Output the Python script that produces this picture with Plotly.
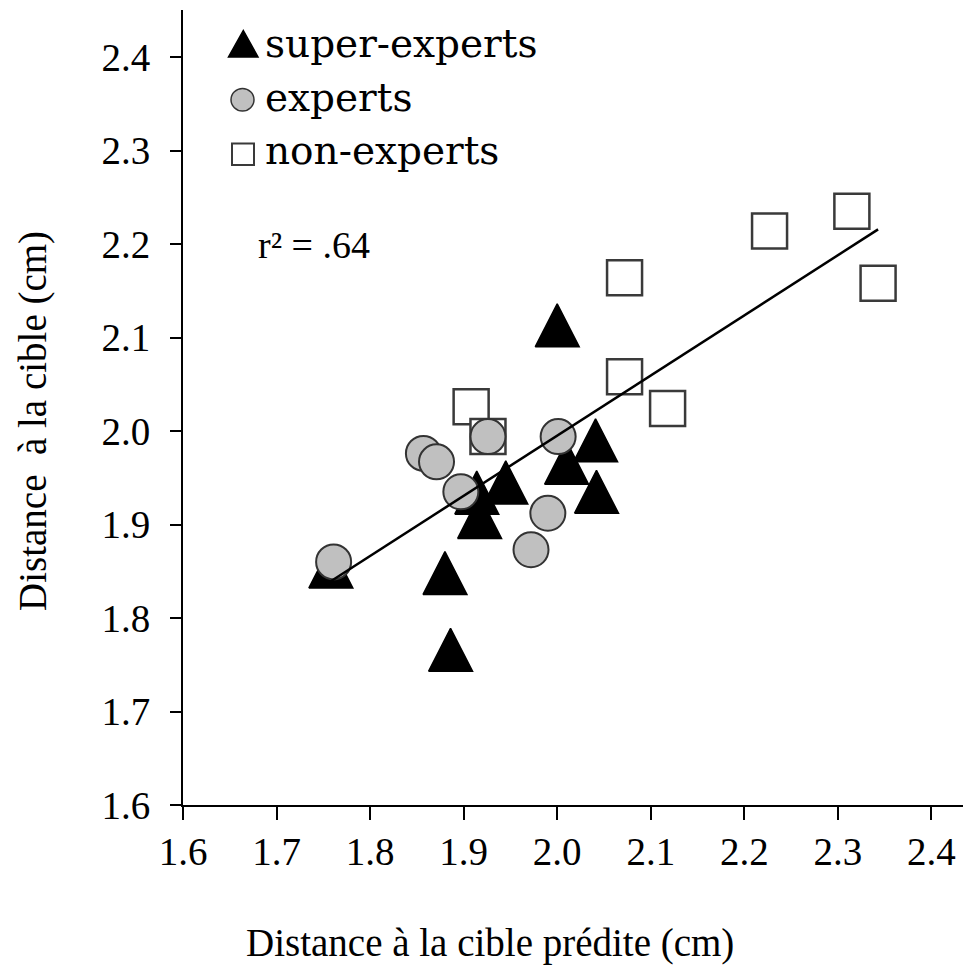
import numpy as np
import plotly.graph_objects as go

# ---------------- data ----------------
super_x = [2.000, 2.041, 2.010, 2.042, 1.945, 1.914, 1.917, 1.880, 1.886, 1.758]
super_y = [2.113, 1.990, 1.966, 1.935, 1.945, 1.934, 1.908, 1.848, 1.766, 1.855]

experts_x = [1.761, 1.857, 1.871, 1.897, 1.926, 2.001, 1.990, 1.972]
experts_y = [1.860, 1.976, 1.967, 1.935, 1.994, 1.994, 1.912, 1.873]

non_x = [1.908, 1.926, 2.072, 2.118, 2.072, 2.227, 2.315, 2.343]
non_y = [2.026, 1.994, 2.058, 2.024, 2.164, 2.214, 2.235, 2.158]

group_labels = ["super-experts", "experts", "non-experts"]
tick_vals = [1.6, 1.7, 1.8, 1.9, 2.0, 2.1, 2.2, 2.3, 2.4]
x_tick_text = ["1.6", "1.7", "1.8", "1.9", "2.0", "2.1", "2.2", "2.3", "2.4"]
y_tick_text = ["1.6", "1.7", "1.8", "1.9", "2.0", "2.1", "2.2", "2.3", "2.4"]
r2_label = "r² = .64"
x_title = "Distance à la cible prédite (cm)"
y_title = "Distance\u00a0 à la cible (cm)"

# ---------------- layout geometry ----------------
BODY = 8                                # default page margin around the figure
W, H = 971 - BODY, 965 - BODY
ML, MR, MT, MB = 183 - BODY, 2, 10 - BODY, 160
PW, PH = W - ML - MR, H - MT - MB
PXU_X, PXU_Y = 935.5, 935.0             # pixels per data unit
x_range = [1.6, 1.6 + PW / PXU_X]
y_range = [1.6, 1.6 + PH / PXU_Y]
PLOT_LEFT, PLOT_BOTTOM = ML + BODY, H - MB + BODY   # in window pixels


def px(xp):
    return (xp - PLOT_LEFT) / PW


def py(yp):
    return (PLOT_BOTTOM - yp) / PH


SERIF = "Liberation Serif, Times New Roman, serif"
LEG_FONT = "DejaVu Serif, serif"

fig = go.Figure()

# non-experts: open squares (drawn first, under the others)
fig.add_trace(go.Scatter(
    x=non_x, y=non_y, mode="markers", name=group_labels[2], showlegend=False,
    marker=dict(symbol="square", size=35, color="white",
                line=dict(color="#3a3a3a", width=2.5)),
))

# super-experts: filled triangles drawn as polygons in data space
tri_hw = 22.0 / PXU_X
tri_hh = 21.5 / PXU_Y
tx, ty = [], []
for xv, yv in zip(super_x, super_y):
    tx += [xv - tri_hw, xv + tri_hw, xv, xv - tri_hw, None]
    ty += [yv - tri_hh, yv - tri_hh, yv + tri_hh, yv - tri_hh, None]
fig.add_trace(go.Scatter(
    x=tx, y=ty, mode="lines", fill="toself", fillcolor="black",
    line=dict(color="black", width=1.5), name=group_labels[0],
    showlegend=False, hoverinfo="skip",
))

# experts: grey circles
fig.add_trace(go.Scatter(
    x=experts_x, y=experts_y, mode="markers", name=group_labels[1], showlegend=False,
    marker=dict(symbol="circle", size=35, color="#c0c0c0",
                line=dict(color="#333333", width=2)),
))

# linear fit over all points
all_x = np.array(super_x + experts_x + non_x)
all_y = np.array(super_y + experts_y + non_y)
slope, intercept = np.polyfit(all_x, all_y, 1)
fx = np.array([all_x.min(), all_x.max()])
fig.add_trace(go.Scatter(
    x=fx, y=slope * fx + intercept, mode="lines", showlegend=False,
    line=dict(color="black", width=2.5), hoverinfo="skip",
))

# ---------------- custom legend ----------------
shapes = [
    dict(type="path", xref="paper", yref="paper",
         path=f"M {px(228.5)},{py(57)} L {px(258)},{py(57)} L {px(243.3)},{py(30.5)} Z",
         fillcolor="black", line=dict(color="black", width=1.5)),
    dict(type="circle", xref="paper", yref="paper",
         x0=px(231), x1=px(254), y0=py(111), y1=py(88.5),
         fillcolor="#c0c0c0", line=dict(color="#333333", width=1.5)),
    dict(type="rect", xref="paper", yref="paper",
         x0=px(232), x1=px(254), y0=py(165), y1=py(143.5),
         fillcolor="white", line=dict(color="#3a3a3a", width=2)),
]

annotations = []
for lab, yc in zip(group_labels, [43.8, 97.2, 150.5]):
    annotations.append(dict(
        text=lab, xref="paper", yref="paper", x=px(263), y=py(yc),
        xanchor="left", yanchor="middle", showarrow=False,
        font=dict(family=LEG_FONT, size=39, color="black"),
    ))

annotations.append(dict(
    text=r2_label, xref="paper", yref="paper", x=px(256), y=py(245),
    xanchor="left", yanchor="middle", showarrow=False,
    font=dict(family=SERIF, size=38, color="black"),
))
annotations.append(dict(
    text=x_title, xref="paper", yref="paper", x=px(490), y=py(943),
    xanchor="center", yanchor="middle", showarrow=False,
    font=dict(family=SERIF, size=39, color="black"),
))
annotations.append(dict(
    text=y_title, xref="paper", yref="paper", x=px(33), y=py(421),
    xanchor="center", yanchor="middle", showarrow=False, textangle=-90,
    font=dict(family=SERIF, size=39, color="black"),
))

fig.update_layout(
    width=W, height=H,
    margin=dict(l=ML, r=MR, t=MT, b=MB, pad=0),
    paper_bgcolor="white", plot_bgcolor="white",
    showlegend=False,
    shapes=shapes, annotations=annotations,
    xaxis=dict(range=x_range, tickvals=tick_vals, ticktext=x_tick_text,
               showline=True, linecolor="black", linewidth=2,
               ticks="outside", ticklen=13, tickwidth=2, tickcolor="black",
               showgrid=False, zeroline=False, ticklabelstandoff=-2,
               tickfont=dict(family=SERIF, size=39, color="black")),
    yaxis=dict(range=y_range, tickvals=tick_vals, ticktext=y_tick_text,
               showline=True, linecolor="black", linewidth=2,
               ticks="outside", ticklen=11, tickwidth=2, tickcolor="black",
               showgrid=False, zeroline=False, ticklabelstandoff=12,
               tickfont=dict(family=SERIF, size=39, color="black")),
)

fig.write_html("out.html")
